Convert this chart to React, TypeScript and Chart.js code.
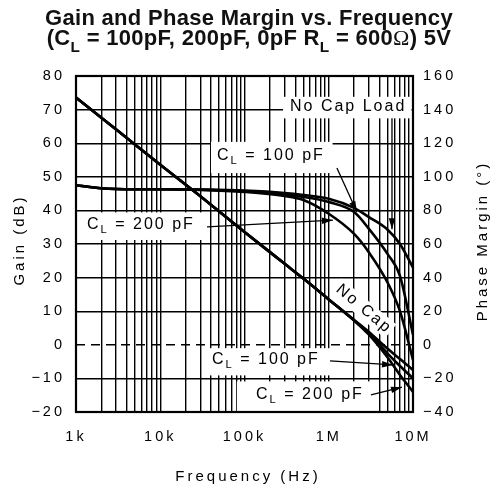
import React, { useEffect, useRef } from 'react';
import { Chart, registerables } from 'chart.js';

Chart.register(...registerables);

// ---------------- data ----------------
const frequencies = [1e3, 2e3, 5e3, 1e4, 3e4, 1e5, 3e5, 5e5, 1e6, 2e6, 3e6, 5e6, 7e6, 1e7];
const gainNoCap = [73.6, 67.6, 59.6, 53.6, 44.2, 33.6, 24.1, 19.7, 13.5, 7.4, 3.8, -1.2, -4.2, -7.5];
const gain100pF = [73.6, 67.6, 59.6, 53.6, 44.2, 33.6, 24.1, 19.7, 13.5, 7.3, 3.4, -2.6, -6.3, -10];
const gain200pF = [73.6, 67.6, 59.6, 53.6, 44.2, 33.6, 24.1, 19.7, 13.5, 7.2, 3.0, -3.8, -9, -14];
const phaseNoCap = [95, 93.2, 92.6, 92.6, 92.4, 91.8, 90.4, 89.2, 87, 81.5, 76, 68.5, 60, 46];
const phase100pF = [95, 93.2, 92.6, 92.6, 92.3, 91.4, 89.6, 88, 85, 79, 69, 54, 41, 6];
const phase200pF = [95, 93.2, 92.6, 92.6, 92.2, 91, 88.6, 86.2, 78, 66, 55, 37, 20, -9];

const gainTicks = [-20, -10, 0, 10, 20, 30, 40, 50, 60, 70, 80];
const phaseTicks = [-40, -20, 0, 20, 40, 60, 80, 100, 120, 140, 160];
const decadeValues = [1e3, 1e4, 1e5, 1e6, 1e7];
const decadeLabels = ['1k', '10k', '100k', '1M', '10M'];
const minorMultipliers = [2, 3, 4, 5, 6, 7, 8, 9];

const titleLine1 = 'Gain and Phase Margin vs. Frequency';
const gainTitle = 'Gain (dB)';
const phaseTitle = 'Phase Margin (°)';
const freqTitle = 'Frequency (Hz)';

// ---------------- drawing helpers ----------------
const FONT = '"Liberation Sans", Arial, Helvetica, sans-serif';
const SERIF = '"Liberation Serif", "Times New Roman", serif';
type Part = { t: string; sub?: boolean; serif?: boolean };

const titleLine2: Part[] = [
  { t: '(C' }, { t: 'L', sub: true }, { t: ' = 100pF, 200pF, 0pF R' }, { t: 'L', sub: true },
  { t: ' = 600' }, { t: 'Ω', serif: true }, { t: ') 5V' },
];
const cl100: Part[] = [{ t: 'C' }, { t: 'L', sub: true }, { t: ' = 100 pF' }];
const cl200: Part[] = [{ t: 'C' }, { t: 'L', sub: true }, { t: ' = 200 pF' }];

function setFont(ctx: CanvasRenderingContext2D, size: number, bold: boolean, serif = false) {
  ctx.font = serif ? `${size}px ${SERIF}` : `${bold ? 'bold ' : ''}${size}px ${FONT}`;
}

function drawRich(
  ctx: CanvasRenderingContext2D, parts: Part[], x: number, y: number,
  size: number, bold: boolean, align: 'left' | 'center',
) {
  const subSize = size * 0.7;
  let total = 0;
  const widths = parts.map((p) => {
    setFont(ctx, p.sub ? subSize : size, bold, p.serif);
    const w = ctx.measureText(p.t).width;
    total += w;
    return w;
  });
  let cx = align === 'center' ? x - total / 2 : x;
  ctx.textAlign = 'left';
  parts.forEach((p, i) => {
    setFont(ctx, p.sub ? subSize : size, bold, p.serif);
    ctx.fillText(p.t, cx, p.sub ? y + size * 0.3 : y);
    cx += widths[i];
  });
}

function arrow(ctx: CanvasRenderingContext2D, x1: number, y1: number, x2: number, y2: number) {
  ctx.beginPath();
  ctx.moveTo(x1, y1);
  ctx.lineTo(x2, y2);
  ctx.stroke();
  const a = Math.atan2(y2 - y1, x2 - x1);
  const L = 11, W = 3.2;
  const c = Math.cos(a), s = Math.sin(a);
  ctx.beginPath();
  ctx.moveTo(x2, y2);
  ctx.lineTo(x2 - L * c + W * s, y2 - L * s - W * c);
  ctx.lineTo(x2 - L * c - W * s, y2 - L * s + W * c);
  ctx.closePath();
  ctx.fill();
}

// annotations in data coordinates (frequency, dB on the gain axis)
const notes = [
  { parts: [{ t: 'No Cap Load' }] as Part[], f: 3.47e5, g: 70.8, box: [2.87e5, 73.8, 9.6e6, 67.4], arr: [5.63e6, 67.4, 5.63e6, 34.4] },
  { parts: cl100, f: 4.72e4, g: 56.2, box: [4.0e4, 60.4, 1.11e6, 51.1], arr: [1.25e6, 52.6, 2.16e6, 39.5] },
  { parts: cl200, f: 1.35e3, g: 35.65, box: [1.01e3, 39.4, 3.2e4, 31.2], arr: [3.59e4, 35.1, 1.12e6, 37.1] },
  { parts: cl100, f: 4.11e4, g: -4.5, box: [3.4e4, -1.0, 1.19e6, -9.1], arr: [1.035e6, -4.8, 5.79e6, -6.0] },
  { parts: cl200, f: 1.37e5, g: -14.9, box: [8.1e4, -10.9, 3.76e6, -20], arr: [3.17e6, -14.9, 7.4e6, -12.6] },
];

const overlay = {
  id: 'overlay',
  beforeDraw(chart: any) {
    const ctx = chart.ctx as any;
    ctx.letterSpacing = '3px';
  },
  beforeDatasetsDraw(chart: any) {
    const ctx = chart.ctx as CanvasRenderingContext2D & { letterSpacing: string };
    const area = chart.chartArea;
    const X = (f: number) => chart.scales.x.getPixelForValue(f);
    const Y = (v: number) => chart.scales.y.getPixelForValue(v);
    ctx.save();
    // white boxes behind the labels
    ctx.fillStyle = '#fff';
    for (const n of notes) {
      const [f0, g0, f1, g1] = n.box;
      ctx.fillRect(X(f0), Y(g0), X(f1) - X(f0), Y(g1) - Y(g0));
    }
    // dashed zero line
    ctx.strokeStyle = '#000';
    ctx.lineWidth = 1.5;
    ctx.setLineDash([9, 6]);
    ctx.beginPath();
    ctx.moveTo(area.left, Y(0));
    ctx.lineTo(area.right, Y(0));
    ctx.stroke();
    ctx.setLineDash([]);
    // label text
    ctx.fillStyle = '#000';
    ctx.textBaseline = 'middle';
    ctx.letterSpacing = '2px';
    for (const n of notes) {
      drawRich(ctx, n.parts, X(n.f), Y(n.g), 16, false, 'left');
    }
    // rotated "No Cap"
    ctx.save();
    ctx.translate(X(2.62e6), Y(10.65));
    ctx.rotate((40 * Math.PI) / 180);
    ctx.letterSpacing = '2.2px';
    setFont(ctx, 16, false);
    const w = ctx.measureText('No Cap').width;
    ctx.fillStyle = '#fff';
    ctx.fillRect(-w / 2 - 3, -9, w + 4, 18);
    ctx.fillStyle = '#000';
    ctx.textAlign = 'center';
    ctx.fillText('No Cap', 0, 0);
    ctx.restore();
    ctx.restore();
  },
  afterDatasetsDraw(chart: any) {
    const ctx = chart.ctx as CanvasRenderingContext2D;
    const area = chart.chartArea;
    const X = (f: number) => chart.scales.x.getPixelForValue(f);
    const Y = (v: number) => chart.scales.y.getPixelForValue(v);
    ctx.save();
    ctx.strokeStyle = '#000';
    ctx.fillStyle = '#000';
    ctx.lineWidth = 1.3;
    for (const n of notes) {
      const [f0, g0, f1, g1] = n.arr;
      arrow(ctx, X(f0), Y(g0), X(f1), Y(g1));
    }
    ctx.lineWidth = 2.2;
    ctx.strokeRect(area.left, area.top, area.right - area.left, area.bottom - area.top);
    ctx.restore();
  },
  afterDraw(chart: any) {
    const ctx = chart.ctx as CanvasRenderingContext2D & { letterSpacing: string };
    const area = chart.chartArea;
    ctx.save();
    ctx.fillStyle = '#111';
    ctx.textBaseline = 'alphabetic';
    ctx.letterSpacing = '0.3px';
    ctx.textAlign = 'center';
    setFont(ctx, 22, true);
    ctx.fillText(titleLine1, 249, 25);
    drawRich(ctx, titleLine2, 249, 45, 22, true, 'center');

    ctx.fillStyle = '#000';
    ctx.letterSpacing = '3px';
    setFont(ctx, 15, false);
    ctx.textAlign = 'center';
    ctx.fillText(freqTitle, 248, 481);
    const midY = (area.top + area.bottom) / 2;
    ctx.save();
    ctx.translate(24, midY - 4);
    ctx.rotate(-Math.PI / 2);
    ctx.fillText(gainTitle, 0, 0);
    ctx.restore();
    ctx.save();
    ctx.translate(487, midY - 3);
    ctx.rotate(-Math.PI / 2);
    ctx.fillText(phaseTitle, 0, 0);
    ctx.restore();
    ctx.restore();
  },
};

const fmt = (v: number) => (v < 0 ? '\u2212' + Math.abs(v) : String(v));

export default function App() {
  const ref = useRef<HTMLCanvasElement>(null);
  useEffect(() => {
    const xTicks: number[] = [];
    decadeValues.forEach((d, i) => {
      xTicks.push(d);
      if (i < decadeValues.length - 1) minorMultipliers.forEach((m) => xTicks.push(d * m));
    });
    const mk = (arr: number[]) => frequencies.map((f, i) => ({ x: f, y: arr[i] }));
    const ds = (arr: number[], axis: string) => ({
      data: mk(arr), yAxisID: axis, borderColor: '#000', borderWidth: 2.6,
      pointRadius: 0, fill: false, cubicInterpolationMode: 'monotone' as const,
    });
    const tickFont = { family: FONT, size: 14.5 };
    const chart = new Chart(ref.current!, {
      type: 'line',
      data: {
        datasets: [
          ds(phaseNoCap, 'y1'), ds(phase100pF, 'y1'), ds(phase200pF, 'y1'),
          ds(gainNoCap, 'y'), ds(gain100pF, 'y'), ds(gain200pF, 'y'),
        ],
      },
      options: {
        responsive: false,
        animation: false,
        layout: { padding: { top: 76, left: 0, right: 0, bottom: 0 } },
        plugins: { legend: { display: false }, title: { display: false }, tooltip: { enabled: false } },
        scales: {
          x: {
            type: 'logarithmic', min: 1e3, max: 1e7,
            afterBuildTicks: (s: any) => { s.ticks = xTicks.map((v) => ({ value: v })); },
            afterFit: (s: any) => { s.height = 85; },
            grid: { color: '#000', lineWidth: 1.4, drawTicks: false },
            border: { display: false },
            ticks: {
              autoSkip: false, maxRotation: 0, minRotation: 0, padding: 16, color: '#000', font: tickFont,
              callback: (v: any) => {
                const i = decadeValues.indexOf(Number(v));
                return i >= 0 ? decadeLabels[i] : '';
              },
            },
          },
          y: {
            type: 'linear', position: 'left', min: -20, max: 80,
            afterBuildTicks: (s: any) => { s.ticks = gainTicks.map((v) => ({ value: v })); },
            afterFit: (s: any) => { s.width = 76; },
            grid: {
              color: (c: any) => (c.tick && c.tick.value === 0 ? 'rgba(0,0,0,0)' : '#000'),
              lineWidth: 1.4, drawTicks: false,
            },
            border: { display: false },
            ticks: { padding: 11, color: '#000', font: tickFont, callback: (v: any) => fmt(Number(v)) },
          },
          y1: {
            type: 'linear', position: 'right', min: -40, max: 160,
            afterBuildTicks: (s: any) => { s.ticks = phaseTicks.map((v) => ({ value: v })); },
            afterFit: (s: any) => { s.width = 80; },
            grid: { display: false, drawTicks: false },
            border: { display: false },
            ticks: { padding: 10, color: '#000', font: tickFont, callback: (v: any) => fmt(Number(v)) },
          },
        },
      } as any,
      plugins: [overlay as any],
    });
    return () => chart.destroy();
  }, []);
  return (
    <div style={{ position: 'absolute', left: 0, top: 0, width: 493, height: 497, background: '#fff' }}>
      <canvas ref={ref} width={493} height={497} style={{ width: 493, height: 497, display: 'block' }} />
    </div>
  );
}
